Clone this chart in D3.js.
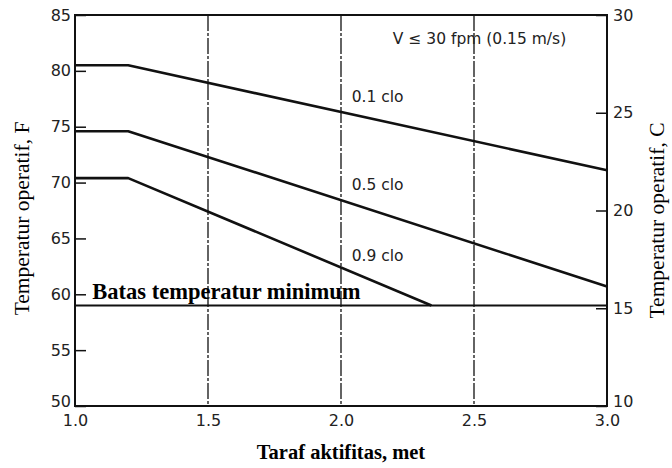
<!DOCTYPE html>
<html>
<head>
<meta charset="utf-8">
<script src="https://cdn.jsdelivr.net/npm/d3@7"></script>
<style>
  html, body { margin: 0; padding: 0; background: #fff; }
  svg { display: block; }
</style>
</head>
<body>
<svg id="chart" width="672" height="468"></svg>
<script>
// ---- data ----
const xTicks = [1.0, 1.5, 2.0, 2.5, 3.0];
const yTicksF = [50, 55, 60, 65, 70, 75, 80, 85];
const yTicksC = [10, 15, 20, 25, 30];
const seriesNames = ["0.1 clo", "0.5 clo", "0.9 clo"];
const met01 = [1.0, 1.2, 3.0];
const tempF01 = [80.5, 80.5, 71.1];
const met05 = [1.0, 1.2, 3.0];
const tempF05 = [74.6, 74.6, 60.7];
const met09 = [1.0, 1.2, 2.34];
const tempF09 = [70.4, 70.4, 59.0];
const minLimitF = 59;
const labelPosMet = [2.04, 2.04, 2.04];
const labelPosF = [77.7, 69.8, 63.5];
const noteText = "V \u2264 30 fpm (0.15 m/s)";

// ---- scales ----
const svg = d3.select("#chart");
const L = 75, R = 607, T = 15, B = 406;
const x = d3.scaleLinear().domain([1, 3]).range([L, R]);
const yF = d3.scaleLinear().domain([50, 85]).range([B, T]);
const yC = d3.scaleLinear().domain([10, 30]).range([B, T]);
const ink = "#111";
const sans = "'DejaVu Sans', 'Liberation Sans', sans-serif";
const serif = "'Liberation Serif', 'DejaVu Serif', serif";

// gridlines
svg.append("g").selectAll("line")
  .data(xTicks.slice(1, -1))
  .join("line")
  .attr("x1", d => x(d)).attr("x2", d => x(d))
  .attr("y1", yF(85)).attr("y2", yF(50))
  .attr("stroke", ink).attr("stroke-width", 1.3)
  .attr("stroke-dasharray", "16,2,3,2");

// frame
svg.append("rect")
  .attr("x", x(1)).attr("y", yF(85))
  .attr("width", x(3) - x(1)).attr("height", yF(50) - yF(85))
  .attr("fill", "none").attr("stroke", ink).attr("stroke-width", 2);

// axes
const styleAxis = g => {
  g.select(".domain").remove();
  g.selectAll(".tick line").attr("stroke", ink).attr("stroke-width", 1.5);
  g.selectAll(".tick text").attr("fill", "#222")
    .style("font-family", sans).style("font-size", "16px");
};
svg.append("g").attr("transform", `translate(${x(1)},0)`)
  .call(d3.axisLeft(yF).tickValues(yTicksF).tickFormat(d3.format("d"))
    .tickSizeInner(-11).tickSizeOuter(0).tickPadding(4))
  .call(styleAxis)
  .call(g => g.selectAll(".tick text").filter(d => d === 50).attr("dy", "0.05em"));
svg.append("g").attr("transform", `translate(${x(3)},0)`)
  .call(d3.axisRight(yC).tickValues(yTicksC).tickFormat(d3.format("d"))
    .tickSizeInner(-11).tickSizeOuter(0).tickPadding(6))
  .call(styleAxis)
  .call(g => g.selectAll(".tick text").filter(d => d === 10).attr("dy", "0.05em"));
svg.append("g").attr("transform", `translate(0,${yF(50)})`)
  .call(d3.axisBottom(x).tickValues(xTicks).tickFormat(d3.format(".1f"))
    .tickSize(0).tickPadding(9))
  .call(styleAxis);

// minimum line
svg.append("line")
  .attr("x1", x(1)).attr("x2", x(3))
  .attr("y1", yF(minLimitF)).attr("y2", yF(minLimitF))
  .attr("stroke", ink).attr("stroke-width", 2);

// curves
const line = d3.line().x(d => x(d[0])).y(d => yF(d[1]));
const series = [
  d3.zip(met01, tempF01),
  d3.zip(met05, tempF05),
  d3.zip(met09, tempF09)
];
svg.append("g").selectAll("path")
  .data(series)
  .join("path")
  .attr("d", line)
  .attr("fill", "none").attr("stroke", ink)
  .attr("stroke-width", 2.6).attr("stroke-linejoin", "round");

// curve labels
svg.append("g").selectAll("text")
  .data(seriesNames)
  .join("text")
  .attr("x", (d, i) => x(labelPosMet[i]))
  .attr("y", (d, i) => yF(labelPosF[i]))
  .attr("dy", "0.35em")
  .attr("fill", "#222")
  .style("font-family", sans).style("font-size", "15.5px")
  .text(d => d);

// note
svg.append("text")
  .attr("x", x(2.195)).attr("y", yF(82.9)).attr("dy", "0.35em")
  .attr("fill", "#222")
  .style("font-family", sans).style("font-size", "15.5px")
  .text(noteText);

// min label
svg.append("text")
  .attr("x", x(1.065)).attr("y", yF(59.55))
  .attr("fill", "#000")
  .style("font-family", serif).style("font-size", "22.5px").style("font-weight", "bold")
  .text("Batas temperatur minimum");

// axis titles
svg.append("text")
  .attr("x", (L + R) / 2).attr("y", 459)
  .attr("text-anchor", "middle")
  .style("font-family", serif).style("font-size", "20.5px").style("font-weight", "bold")
  .text("Taraf aktifitas, met");
svg.append("text")
  .attr("transform", `translate(29,${(T + B) / 2 + 8}) rotate(-90)`)
  .attr("text-anchor", "middle")
  .style("font-family", serif).style("font-size", "21.5px")
  .text("Temperatur operatif, F");
svg.append("text")
  .attr("transform", `translate(664,${(T + B) / 2 + 10}) rotate(-90)`)
  .attr("text-anchor", "middle")
  .style("font-family", serif).style("font-size", "21.5px")
  .text("Temperatur operatif, C");
</script>
</body>
</html>
